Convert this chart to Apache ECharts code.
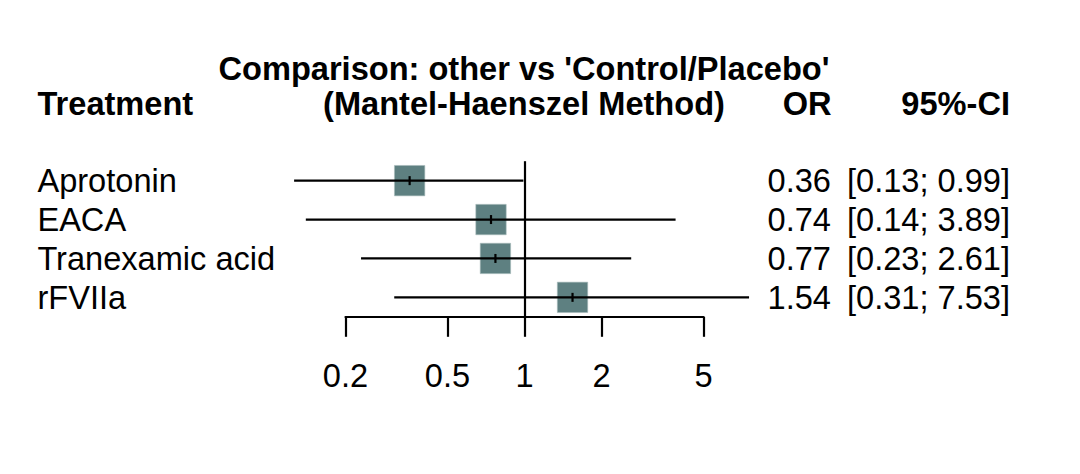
<!DOCTYPE html>
<html>
<head>
<meta charset="utf-8">
<script src="https://cdn.jsdelivr.net/npm/echarts@6/dist/echarts.min.js"></script>
<style>
html,body{margin:0;padding:0;background:#fff;}
#c{width:1080px;height:474px;}
</style>
</head>
<body>
<div id="c"></div>
<script>
const treatments = ['Aprotonin', 'EACA', 'Tranexamic acid', 'rFVIIa'];
const orValues = [0.356, 0.74, 0.77, 1.54];
const ciLower = [0.126, 0.14, 0.23, 0.31];
const ciUpper = [0.99, 3.89, 2.61, 7.53];
const xTicks = [0.2, 0.5, 1, 2, 5];

const FONT = "'Liberation Sans', Arial, sans-serif";
const FS = 32.6;
const fmt = v => v.toFixed(2);
const orLabels = orValues.map(fmt);
const ciLabels = ciLower.map((l, i) => '[' + fmt(l) + '; ' + fmt(ciUpper[i]) + ']');
const seriesData = treatments.map((t, i) => [orValues[i], i, ciLower[i], ciUpper[i]]);

const TOP = 161.2, HEIGHT = 155.6;
const LW = 2.2;
const chart = echarts.init(document.getElementById('c'), null, {renderer: 'svg'});
const labelBase = {fontSize: FS, color: '#000', fontFamily: FONT};
const boldFont = 'bold ' + FS + 'px ' + FONT;

chart.setOption({
  animation: false,
  backgroundColor: '#fff',
  grid: [
    {left: 268.4, width: 512.2, top: TOP, height: HEIGHT, containLabel: false},
    {left: 345.5, width: 358, top: TOP, height: HEIGHT, containLabel: false}
  ],
  xAxis: [
    {gridIndex: 0, type: 'log', logBase: 10, min: 0.1, max: 10, show: false},
    {gridIndex: 1, type: 'log', logBase: 10, min: 0.2, max: 5, position: 'bottom',
      axisLine: {show: true, lineStyle: {color: '#000', width: LW}},
      axisTick: {show: true, customValues: xTicks, length: 20, lineStyle: {color: '#000', width: LW}},
      axisLabel: Object.assign({customValues: xTicks, margin: 59, verticalAlign: 'middle',
        formatter: v => String(v)}, labelBase),
      splitLine: {show: false}, minorTick: {show: false}
    }
  ],
  yAxis: [
    {gridIndex: 0, type: 'category', data: treatments, inverse: true,
      axisLine: {show: false}, axisTick: {show: false}, splitLine: {show: false},
      axisLabel: Object.assign({align: 'left', margin: 231, interval: 0}, labelBase)},
    {gridIndex: 0, type: 'category', data: orLabels, inverse: true, position: 'right',
      axisLine: {show: false}, axisTick: {show: false}, splitLine: {show: false},
      axisLabel: Object.assign({align: 'right', margin: 50.4, interval: 0}, labelBase)},
    {gridIndex: 0, type: 'category', data: ciLabels, inverse: true, position: 'right',
      axisLine: {show: false}, axisTick: {show: false}, splitLine: {show: false},
      axisLabel: Object.assign({align: 'right', margin: 229.4, interval: 0}, labelBase)},
    {gridIndex: 1, type: 'category', data: treatments, inverse: true, show: false}
  ],
  graphic: [
    {type: 'text', x: 524, y: 68.5, style: {text: "Comparison: other vs 'Control/Placebo'", font: boldFont, fill: '#000', align: 'center', verticalAlign: 'middle'}},
    {type: 'text', x: 37.5, y: 103.5, style: {text: 'Treatment', font: boldFont, fill: '#000', align: 'left', verticalAlign: 'middle'}},
    {type: 'text', x: 524, y: 103.5, style: {text: '(Mantel-Haenszel Method)', font: boldFont, fill: '#000', align: 'center', verticalAlign: 'middle'}},
    {type: 'text', x: 831.5, y: 103.5, style: {text: 'OR', font: boldFont, fill: '#000', align: 'right', verticalAlign: 'middle'}},
    {type: 'text', x: 1010, y: 103.5, style: {text: '95%-CI', font: boldFont, fill: '#000', align: 'right', verticalAlign: 'middle'}}
  ],
  series: [
    {
      type: 'line', xAxisIndex: 0, yAxisIndex: 0, data: [], silent: true,
      markLine: {symbol: 'none', silent: true, label: {show: false},
        lineStyle: {color: '#000', width: LW, type: 'solid'},
        data: [{xAxis: 1}]}
    },
    {
      type: 'custom', xAxisIndex: 0, yAxisIndex: 0, data: seriesData,
      encode: {x: 0, y: 1},
      renderItem: function (params, api) {
        const yv = api.value(1);
        const p = api.coord([api.value(0), yv]);
        const l = api.coord([api.value(2), yv]);
        const h = api.coord([api.value(3), yv]);
        return {
          type: 'group',
          children: [
            {type: 'rect', shape: {x: p[0] - 15.2, y: p[1] - 15.2, width: 30.4, height: 30.4},
              style: {fill: '#5e8081', stroke: '#a9bcbc', lineWidth: 0.6}},
            {type: 'line', shape: {x1: l[0], y1: l[1], x2: h[0], y2: h[1]},
              style: {stroke: '#000', lineWidth: LW}},
            {type: 'line', shape: {x1: p[0], y1: p[1] - 4.5, x2: p[0], y2: p[1] + 4.5},
              style: {stroke: '#000', lineWidth: LW}}
          ]
        };
      }
    }
  ]
});
</script>
</body>
</html>
